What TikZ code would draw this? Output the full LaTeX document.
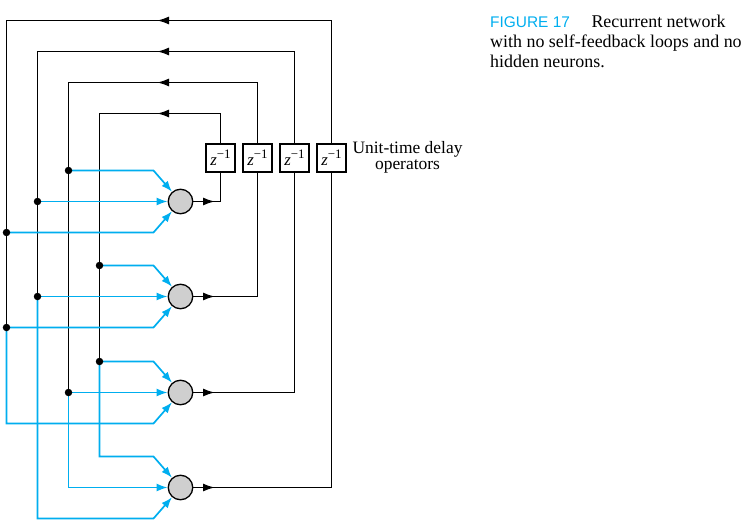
\documentclass[tikz,border=0pt]{standalone}
\usepackage{fontspec}
\setmainfont{Liberation Serif}
\newfontfamily\capsans{Liberation Sans}
\usetikzlibrary{calc, arrows.meta}
\definecolor{netblue}{RGB}{0,174,239}

\begin{document}
\begin{tikzpicture}[x=1bp,y=-1bp,
                neuron/.style={circle,draw,fill=black!19,minimum size=24.5bp,inner sep=0pt,line width=1.3bp},
                delay/.style={draw,fill=white,minimum width=29bp,minimum height=28bp,inner sep=0pt,line width=1.3bp,font=\fontsize{17}{17}\selectfont},
                bus/.style={line width=1.7bp},
                feed/.style={netblue,line width=1.7bp,-{Latex[length=11bp,width=8bp]}},
                tip/.style={-{Latex[length=12bp,width=8bp]}},
                dot/.style={circle,fill,inner sep=0pt,minimum size=7.5bp}]
                \useasboundingbox (0,0) rectangle (745,527);
                \foreach \i/\y in {1/201.5,2/296.5,3/392.5,4/487.5}
                    \node[neuron] (n\i) at (180.5,\y) {};
                \foreach \i/\x in {1/220.5,2/257.5,3/294.5,4/331.5}
                    \node[delay] (d\i) at (\x,158) {\itshape z\/\upshape\raisebox{0.42em}{\fontsize{13}{13}\selectfont\char"2212 1}};
                \foreach \i/\t/\l in {1/113.5/99.5,2/82.5/68.5,3/51.5/37.5,4/20.5/6.5} {
                    \coordinate (o\i) at (d\i |- n\i);
                    \coordinate (t\i) at (\l,\t);
                    \draw[bus] (n\i.east) -- (o\i) -- (d\i.south);
                    \draw[bus,tip] (n\i.east) -- (215,0 |- o\i);
                    \draw[bus] (d\i.north) |- (t\i);
                    \draw[bus,tip] (d\i.north) |- (157,\t);
                }
                \coordinate (p12) at (68.5,170.5);
                \coordinate (p13) at (37.5,201.5);
                \coordinate (p14) at (6.5,232.5);
                \coordinate (p21) at (99.5,265.5);
                \coordinate (p23) at (37.5,296.5);
                \coordinate (p24) at (6.5,327.5);
                \coordinate (p31) at (99.5,361.5);
                \coordinate (p32) at (68.5,392.5);
                \draw[bus] (t1) -- (p31);
                \draw[bus] (t2) -- (p32);
                \draw[bus] (t3) -- (p23);
                \draw[bus] (t4) -- (p24);
                \foreach \src/\n/\dy in {p12/n1/-31,p13/n1/0,p14/n1/31,p21/n2/-31,p23/n2/0,p24/n2/31,
                                        p31/n3/-31,p32/n3/0,p24/n3/31,p31/n4/-31,p32/n4/0,p23/n4/31}
                    \draw[feed] (\src) |- ($(\n)+(-27,\dy)$) -- (\n);
                \foreach \p in {p12,p13,p14,p21,p23,p24,p31,p32}
                    \node[dot] at (\p) {};
                \node[anchor=north,align=center,inner sep=0pt,font=\fontsize{17.5}{16.7}\selectfont] (ops) at (407.5,141) {Unit-time delay\\operators};
                \node[anchor=north west,align=left,inner sep=0pt,font=\fontsize{18}{20}\selectfont] (cap) at (490,14.8)
                    {{\capsans\fontsize{15.5}{20}\selectfont\color{netblue}FIGURE 17}\hspace{1.2em}Recurrent network\\with no self-feedback loops and no\\hidden neurons.};
            \end{tikzpicture}
\end{document}
